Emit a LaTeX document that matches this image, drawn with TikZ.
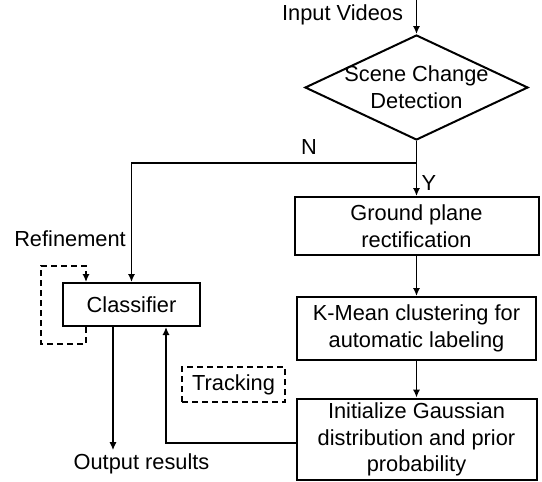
\documentclass[tikz,border=0pt]{standalone}
\usepackage{fontspec}
\setmainfont{Liberation Sans}
\usetikzlibrary{shapes,arrows,arrows.meta,positioning}

\tikzset{
  stage/.style={draw, line width=1pt, fill=white, align=center, inner sep=2pt},
  link/.style={line width=0.75pt},
  loopline/.style={line width=0.75pt, dash pattern=on 3pt off 2pt}
}

\begin{document}
\begin{tikzpicture}[x=0.5pt,y=-0.5pt,
  every node/.style={font=\fontsize{10.9}{13.4}\selectfont},
  >={Latex[length=4pt,width=3.6pt]}]

\useasboundingbox (0,0) rectangle (542,482);

% decision and main stages
\node[diamond, draw, line width=1pt, aspect=2.124, inner sep=-2pt,
  minimum width=111.5pt, minimum height=52.5pt, align=center] (scd) at (416.5,87.5)
  {Scene Change\\Detection};
\node[stage, minimum width=122pt, minimum height=29pt] (gp) at (416.5,226)
  {Ground plane\\rectification};
\node[stage, minimum width=119.5pt, minimum height=31.5pt] (km) at (416.5,328.5)
  {K-Mean clustering for\\automatic labeling};
\node[stage, minimum width=120pt, minimum height=37.5pt] (init) at (416.5,439.5)
  {Initialize Gaussian\\distribution and prior\\probability};
\node[stage, minimum width=68.5pt, minimum height=21.5pt] (cls) at (131.5,304.5) {Classifier};
\node[draw, loopline, minimum width=51.5pt, minimum height=17.5pt, inner sep=0pt] (trk)
  at (233.5,384.5) {Tracking};

% texts
\node[anchor=base east] (inp) at (410,20.5) {Input Videos};
\node[anchor=base] (res) at (141.5,469) {Output results};
\node[anchor=base] (ref) at (70,246) {Refinement};
\node[anchor=base] (no) at (309,155) {N};
\node[anchor=base] (yes) at (429,190) {Y};

\coordinate (src) at (416.5,0);
\coordinate (split) at (416.5,163);

% connectors
\draw[->, link] (src) -- (scd.north);
\draw[->, link] (scd.south) -- (gp.north);
\draw[->, link] (split) -| (cls.north);
\draw[->, link] (gp) -- (km);
\draw[->, link] (km) -- (init);
\draw[->, link] ([yshift=-1.75pt]init.west) -| ([xshift=17.25pt]cls.south);
\draw[->, link] ([xshift=-9.25pt]cls.south) -- ([xshift=-14.25pt,yshift=-2pt]res.north);
\draw[->, loopline] ([xshift=-22.75pt]cls.south) -- ++(0,17) -| (41,266)
  -| ([xshift=-22.75pt]cls.north);

\end{tikzpicture}
\end{document}
